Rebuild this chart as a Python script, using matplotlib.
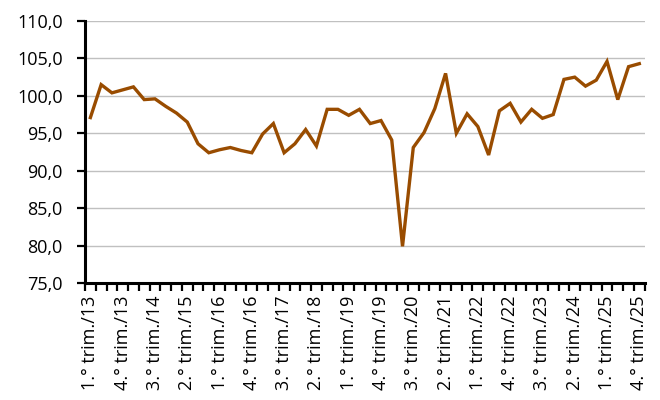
import matplotlib
matplotlib.use("Agg")
import matplotlib.pyplot as plt
from matplotlib.ticker import FixedLocator, FuncFormatter
import numpy as np

years = list(range(13, 26))
quarters = [1, 2, 3, 4]
categories = [f"{q}.° trim./{y}" for y in years for q in quarters]

values = [
    97.1, 101.5, 100.4, 100.8, 101.2, 99.5, 99.6, 98.6, 97.7, 96.5,
    93.6, 92.4, 92.8, 93.1, 92.7, 92.4, 94.9, 96.3, 92.4, 93.6,
    95.5, 93.3, 98.2, 98.2, 97.4, 98.2, 96.3, 96.7, 94.1, 79.9,
    93.1, 95.1, 98.3, 103.0, 95.0, 97.6, 95.9, 92.1, 98.0, 99.0,
    96.5, 98.2, 97.0, 97.5, 102.2, 102.5, 101.3, 102.1, 104.6, 99.5,
    103.9, 104.3,
]

y_ticks = [75, 80, 85, 90, 95, 100, 105, 110]
label_step = 3

plt.rcParams['font.family'] = ['Open Sans', 'DejaVu Sans']

fig = plt.figure(figsize=(6.6, 4.0), dpi=100)
ax = fig.add_axes([0.1288, 0.2925, 0.848, 0.655])

x = np.arange(len(values))
ax.plot(x, values, color="#994C00", linewidth=2.4, solid_joinstyle="miter", zorder=3)

ax.set_xlim(-0.5, len(values) - 0.5)
ax.set_ylim(y_ticks[0], y_ticks[-1])

ax.yaxis.set_major_locator(FixedLocator(y_ticks))
ax.yaxis.set_major_formatter(FuncFormatter(lambda v, p: f"{v:.1f}".replace(".", ",")))
ax.grid(axis="y", color="#C0C0C0", linewidth=1.0, zorder=0)
ax.set_axisbelow(True)

label_idx = list(range(0, len(categories), label_step))
ax.xaxis.set_major_locator(FixedLocator(label_idx))
ax.set_xticklabels([categories[i] for i in label_idx], rotation=90)
ax.xaxis.set_minor_locator(FixedLocator(np.arange(-0.5, len(values), 1.0)))
ax.tick_params(axis="x", which="major", length=0, pad=9, labelsize=13)
ax.tick_params(axis="x", which="minor", length=6, width=1.6, direction="out", color="black")
ax.tick_params(axis="y", which="major", length=6, width=1.6, direction="out", labelsize=13, pad=10)

for s in ["top", "right"]:
    ax.spines[s].set_visible(False)
for s in ["left", "bottom"]:
    ax.spines[s].set_linewidth(2.2)
    ax.spines[s].set_color("black")

fig.savefig("out.png", dpi=100)
